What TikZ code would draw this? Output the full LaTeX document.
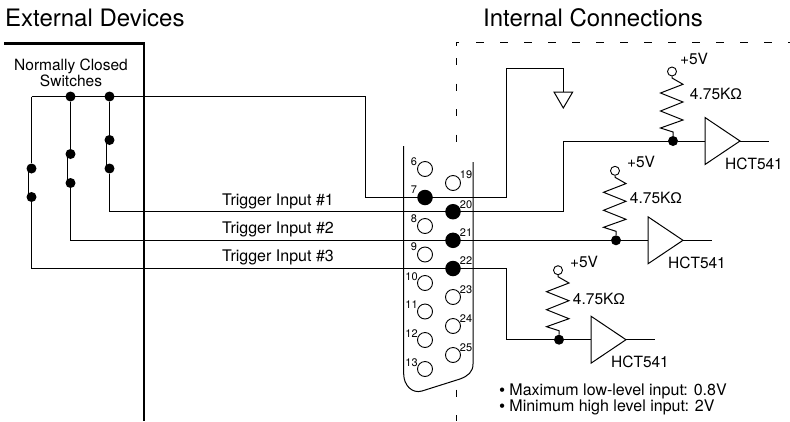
\documentclass[tikz,border=0pt]{standalone}
\usepackage{fontspec}
\setmainfont{TeX Gyre Heros}
\newfontfamily\symfont{Liberation Sans}
\tikzset{
  wire/.style={line width=1pt,black,line join=miter},
  thickwall/.style={line width=2.5pt,black},
  dashwire/.style={line width=1pt,black},
  dot/.style={circle,fill=black,draw=none,minimum size=10pt,inner sep=0pt},
  pinfull/.style={circle,fill=black,draw=none,minimum size=15.5pt,inner sep=0pt},
  pinopen/.style={circle,fill=white,draw=black,line width=0.9pt,minimum size=15pt,inner sep=0pt},
  term/.style={circle,fill=white,draw=black,line width=0.9pt,minimum size=9pt,inner sep=0pt},
  title/.style={font=\fontsize{24}{28}\selectfont,inner sep=0pt,anchor=base west},
  lab/.style={font=\fontsize{15.5}{16}\selectfont,inner sep=0pt},
  trig/.style={font=\fontsize{16}{18}\selectfont,inner sep=0pt,anchor=base},
  pinnum/.style={font=\fontsize{11}{12}\selectfont,inner sep=0pt},
  note/.style={font=\fontsize{16}{16}\selectfont,inner sep=0pt,anchor=base west},
  buffer/.style={line width=1pt,black,fill=white,line join=miter},
}
\newcommand{\stage}[7]{%
  % name, x, y of junction, +5V dx dy, value dx dy
  \begin{scope}[shift={(#2,#3)}]
    \node[dot] (#1j) at (0,0) {};
    \node[term] (#1t) at (-1,-69.5) {};
    \coordinate (#1b) at (32,0);
    \draw[wire] (#1t) -- (-1,-63) -- (10,-56.7) -- (-12.5,-48) -- (10,-39) -- (-12.5,-30) -- (10,-21) -- (-12.5,-13) -- (0,-9) -- (#1j);
    \draw[buffer] (32,-23.5) -- (67,0) -- (32,23.5) -- cycle;
    \coordinate (#1tip) at (67,0);
    \coordinate (#1out) at (95.5,0);
    \draw[wire] (#1j) -- (#1b);
    \draw[wire] (#1tip) -- (#1out);
    \node[lab] at (#4,#5) {+5V};
    \node[lab] at (#6,#7) {4.75K{\symfont Ω}};
    \node[lab] at (81,22.5) {HCT541};
  \end{scope}}
\begin{document}
\begin{tikzpicture}[x=1pt,y=-1pt]
\useasboundingbox (0,0) rectangle (790,421);
\node[title] at (5,26) {External Devices};
\node[title] at (483,26) {Internal Connections};
\node[align=center,inner sep=0pt,font=\fontsize{15.5}{16}\selectfont] at (71,72.5) {Normally Closed\\Switches};
\draw[thickwall] (4,43.5) -- (144,43.5) -- (144,421);
\draw[dashwire,dash pattern=on 8pt off 16pt] (476,42.7) -- (790,42.7);
\draw[dashwire] (459,42.7) -- (456.5,42.7) -- (456.5,46);
\draw[dashwire,dash pattern=on 7pt off 18.5pt] (456.5,58) -- (456.5,146);
\draw[dashwire,dash pattern=on 7pt off 18.5pt] (456.5,389.5) -- (456.5,421);
% connector shell
\draw[wire] (403.7,146) -- (403.7,374) .. controls (403.7,385) and (412,394) .. (422,391) -- (460,379) .. controls (468,376) and (473,372) .. (473,364) -- (473,162);
% switches
\node[dot] (top2) at (70.5,96.5) {};
\node[dot] (top1) at (109.5,96.5) {};
\node[dot] (s1a) at (109.5,140) {};
\node[dot] (s1b) at (109.5,168.5) {};
\node[dot] (s2a) at (70.5,154) {};
\node[dot] (s2b) at (70.5,183) {};
\node[dot] (s3a) at (31.5,168.5) {};
\node[dot] (s3b) at (31.5,197) {};
\draw[wire] (top1) -- (s1a);
\draw[wire] (top2) -- (s2a);
\draw[wire] (31.5,96.5) -- (s3a);
\draw[wire] (106,140) -- (106,168.5);
\draw[wire] (67,154) -- (67,183);
\draw[wire] (28,168.5) -- (28,197);
% pins
\foreach \n/\y in {6/169,8/226,9/254.5,10/283,11/311.5,12/340,13/369}{
  \node[pinopen] (p\n) at (425,\y) {};}
\foreach \n/\y in {19/183,23/297,24/326,25/355}{
  \node[pinopen] (p\n) at (453,\y) {};}
\draw[wire] (31.5,96.5) -- (365,96.5) -- (365,197.5) -- (506,197.5) -- (506,68) -- (563,68) -- (563,92);
\draw[wire] (s1b) -- (109.5,211.7) -- (563,211.7) -- (563,141) -- (673,141);
\draw[wire] (s2b) -- (70.5,240.3) -- (616,240.3);
\draw[wire] (s3b) -- (31.5,268.5) -- (506.5,268.5) -- (506.5,339.7) -- (559,339.7);
\node[pinfull] (p7) at (425,197.5) {};
\node[pinfull] (p20) at (453,211.7) {};
\node[pinfull] (p21) at (453,240.3) {};
\node[pinfull] (p22) at (453,268.5) {};
\draw[wire,fill=white] (554,92) -- (572.7,92) -- (563.3,108) -- cycle;
% pin numbers
\foreach \n/\x/\y in {6/414/161.5,7/414/190,8/414/219,9/414/247,10/411.5/276.5,11/411.5/305,12/411.5/334,13/411.5/363,19/466/175,20/466/205,21/466/232.5,22/466/261,23/466/290,24/466/319,25/466/348}{
  \node[pinnum] (n\n) at (\x,\y) {\n};}
\node[trig] at (278,205) {Trigger Input \#1};
\node[trig] at (278,233.3) {Trigger Input \#2};
\node[trig] at (278,261.7) {Trigger Input \#3};
\stage{a}{673}{141}{21}{-82}{43}{-47}
\stage{b}{616}{240.3}{25}{-78.5}{40}{-42}
\stage{c}{559}{339.7}{25}{-78}{40}{-41}
\node[note] at (499.2,395.7) {{\symfont •} Maximum low-level input: 0.8V};
\node[note] at (499.2,411) {{\symfont •} Minimum high level input: 2V};
\end{tikzpicture}
\end{document}
